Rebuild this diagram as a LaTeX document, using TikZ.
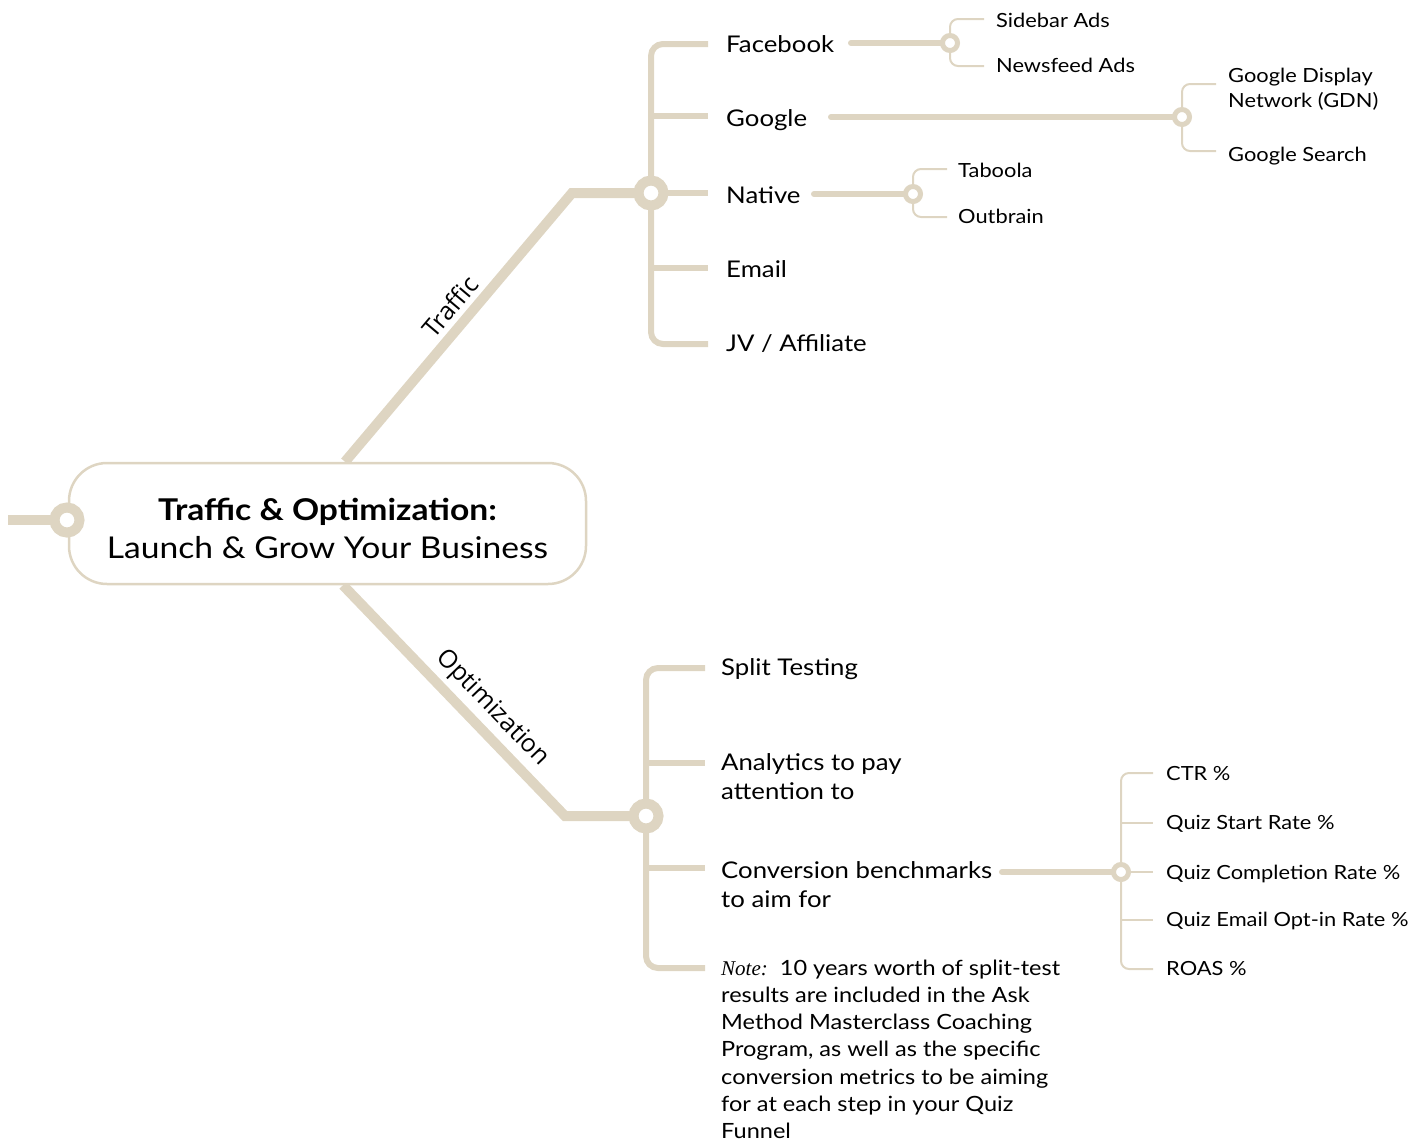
\documentclass[tikz,border=0pt]{standalone}
\usepackage{fontspec}
\setmainfont{Lato}[FakeStretch=1.12]
\newfontfamily\notefont{Liberation Serif}
\newfontfamily\tagfont{Open Sans}
\usetikzlibrary{backgrounds}
\definecolor{beige}{RGB}{222,213,194}
\newcommand{\mlines}[1]{\begin{tabular}[t]{@{}l@{}}#1\end{tabular}}
\begin{document}
\begin{tikzpicture}[x=1pt,y=-1pt,
  trunk/.style={draw=beige, line width=10pt, line join=miter},
  bus/.style={draw=beige, line width=6pt, rounded corners=12pt},
  feed/.style={draw=beige, line width=6pt, line cap=round},
  twig/.style={draw=beige, line width=2pt, rounded corners=8pt},
  bigring/.style={circle, draw=beige, line width=10pt, fill=white, minimum size=25pt, inner sep=0pt},
  smallring/.style={circle, draw=beige, line width=5pt, fill=white, minimum size=15pt, inner sep=0pt},
  rootbox/.style={draw=beige, line width=2.5pt, rounded corners=38pt, fill=white,
     minimum width=517pt, minimum height=121pt, align=center, inner sep=0pt,
     font=\fontsize{30}{38}\selectfont},
  lbl/.style={anchor=base west, inner sep=0pt, font=\fontsize{23}{29}\selectfont},
  sub/.style={anchor=base west, inner sep=0pt, font=\fontsize{19.5}{25}\selectfont},
  notetext/.style={anchor=base west, inner sep=0pt, font=\fontsize{21}{27.3}\selectfont},
  tag/.style={font=\tagfont\fontsize{25}{28}\selectfont, sloped, inner sep=5pt},
]
\useasboundingbox (0,0) rectangle (1424,1141);

% central node and junction rings
\node[rootbox] (root) at (327.5,523.5) {\raisebox{-14.5pt}[0pt][0pt]{\begin{tabular}{@{}c@{}}\textbf{Traffic \& Optimization:}\\Launch \& Grow Your Business\end{tabular}}};
\node[bigring] (lring) at (67,520) {};
\node[bigring] (tring) at (651,193) {};
\node[bigring] (oring) at (646,816) {};
\node[smallring] (fbring) at (950,43) {};
\node[smallring] (goring) at (1182,117) {};
\node[smallring] (naring) at (913,194) {};
\node[smallring] (cvring) at (1121,872) {};

% traffic labels
\node[lbl] (fb) at (726,52) {Facebook};
\node[lbl] (go) at (726,126) {Google};
\node[lbl] (na) at (726,203) {Native};
\node[lbl] (em) at (726,277) {Email};
\node[lbl] (jv) at (726,351) {JV / Affiliate};
\node[sub] (sb) at (996,27) {Sidebar Ads};
\node[sub] (nf) at (996,72) {Newsfeed Ads};
\node[sub] (gdn) at (1228,82) {\mlines{Google Display\\Network (GDN)}};
\node[sub] (gs) at (1228,161) {Google Search};
\node[sub] (tab) at (958,177) {Taboola};
\node[sub] (ob) at (958,223) {Outbrain};

% optimization labels
\node[lbl] (st) at (721,675) {Split Testing};
\node[lbl] (an) at (721,770) {\mlines{Analytics to pay\\attention to}};
\node[lbl] (cb) at (721,878) {\mlines{Conversion benchmarks\\to aim for}};
\node[notetext] (nt) at (721,975) {\mlines{{\notefont\itshape Note:}~~10 years worth of split-test\\
results are included in the Ask\\
Method Masterclass Coaching\\
Program, as well as the specific\\
conversion metrics to be aiming\\
for at each step in your Quiz\\
Funnel}};
\node[sub] (m1) at (1166,780) {CTR \%};
\node[sub] (m2) at (1166,829) {Quiz Start Rate \%};
\node[sub] (m3) at (1166,879) {Quiz Completion Rate \%};
\node[sub] (m4) at (1166,926) {Quiz Email Opt-in Rate \%};
\node[sub] (m5) at (1166,975) {ROAS \%};

% free ends
\coordinate (lstub) at (8,520);
\coordinate (tcorner) at (572,193);
\coordinate (ocorner) at (565,816);
\coordinate (tx1) at (708,44);
\coordinate (tx2) at (708,116);
\coordinate (tx3) at (708,193);
\coordinate (tx4) at (708,268);
\coordinate (tx5) at (708,344);
\coordinate (ox1) at (705,668);
\coordinate (ox2) at (705,763);
\coordinate (ox3) at (705,868);
\coordinate (ox4) at (705,968);
\coordinate (fbx) at (851,43);
\coordinate (gox) at (831,117);
\coordinate (nax) at (814,194);
\coordinate (cvx) at (1002,872);
\coordinate (fs1) at (984,19);
\coordinate (fs2) at (984,66);
\coordinate (gs1) at (1216,84);
\coordinate (gs2) at (1216,151);
\coordinate (ns1) at (947,169);
\coordinate (ns2) at (947,217);
\coordinate (cv1) at (1153,773);
\coordinate (cv2) at (1153,823);
\coordinate (cv3) at (1153,872);
\coordinate (cv4) at (1153,920);
\coordinate (cv5) at (1153,969);

\begin{scope}[on background layer]
  \draw[trunk] (lstub) -- (lring.center);
  \draw[trunk] ([xshift=17.5pt]root.north) -- node[tag, above, pos=.53]{Traffic} (tcorner) -- (tring.center);
  \draw[trunk] ([xshift=15.5pt]root.south) -- node[tag, above, pos=.6]{Optimization} (ocorner) -- (oring.center);
  % traffic bus
  \draw[bus] (tx1) -| (tring.center) |- (tx5);
  \draw[bus] (tx2 -| tring) -- (tx2);
  \draw[bus] (tring.center) -- (tx3);
  \draw[bus] (tx4 -| tring) -- (tx4);
  % optimization bus
  \draw[bus] (ox1) -| (oring.center) |- (ox4);
  \draw[bus] (ox2 -| oring) -- (ox2);
  \draw[bus] (ox3 -| oring) -- (ox3);
  % feeds
  \draw[feed] (fbx) -- (fbring.center);
  \draw[feed] (gox) -- (goring.center);
  \draw[feed] (nax) -- (naring.center);
  \draw[feed] (cvx) -- (cvring.center);
  % twigs
  \draw[twig] (fs1) -| (fbring.center) |- (fs2);
  \draw[twig] (gs1) -| (goring.center) |- (gs2);
  \draw[twig] (ns1) -| (naring.center) |- (ns2);
  \draw[twig] (cv1) -| (cvring.center) |- (cv5);
  \draw[twig] (cv2 -| cvring) -- (cv2);
  \draw[twig] (cvring.center) -- (cv3);
  \draw[twig] (cv4 -| cvring) -- (cv4);
\end{scope}
\end{tikzpicture}
\end{document}
